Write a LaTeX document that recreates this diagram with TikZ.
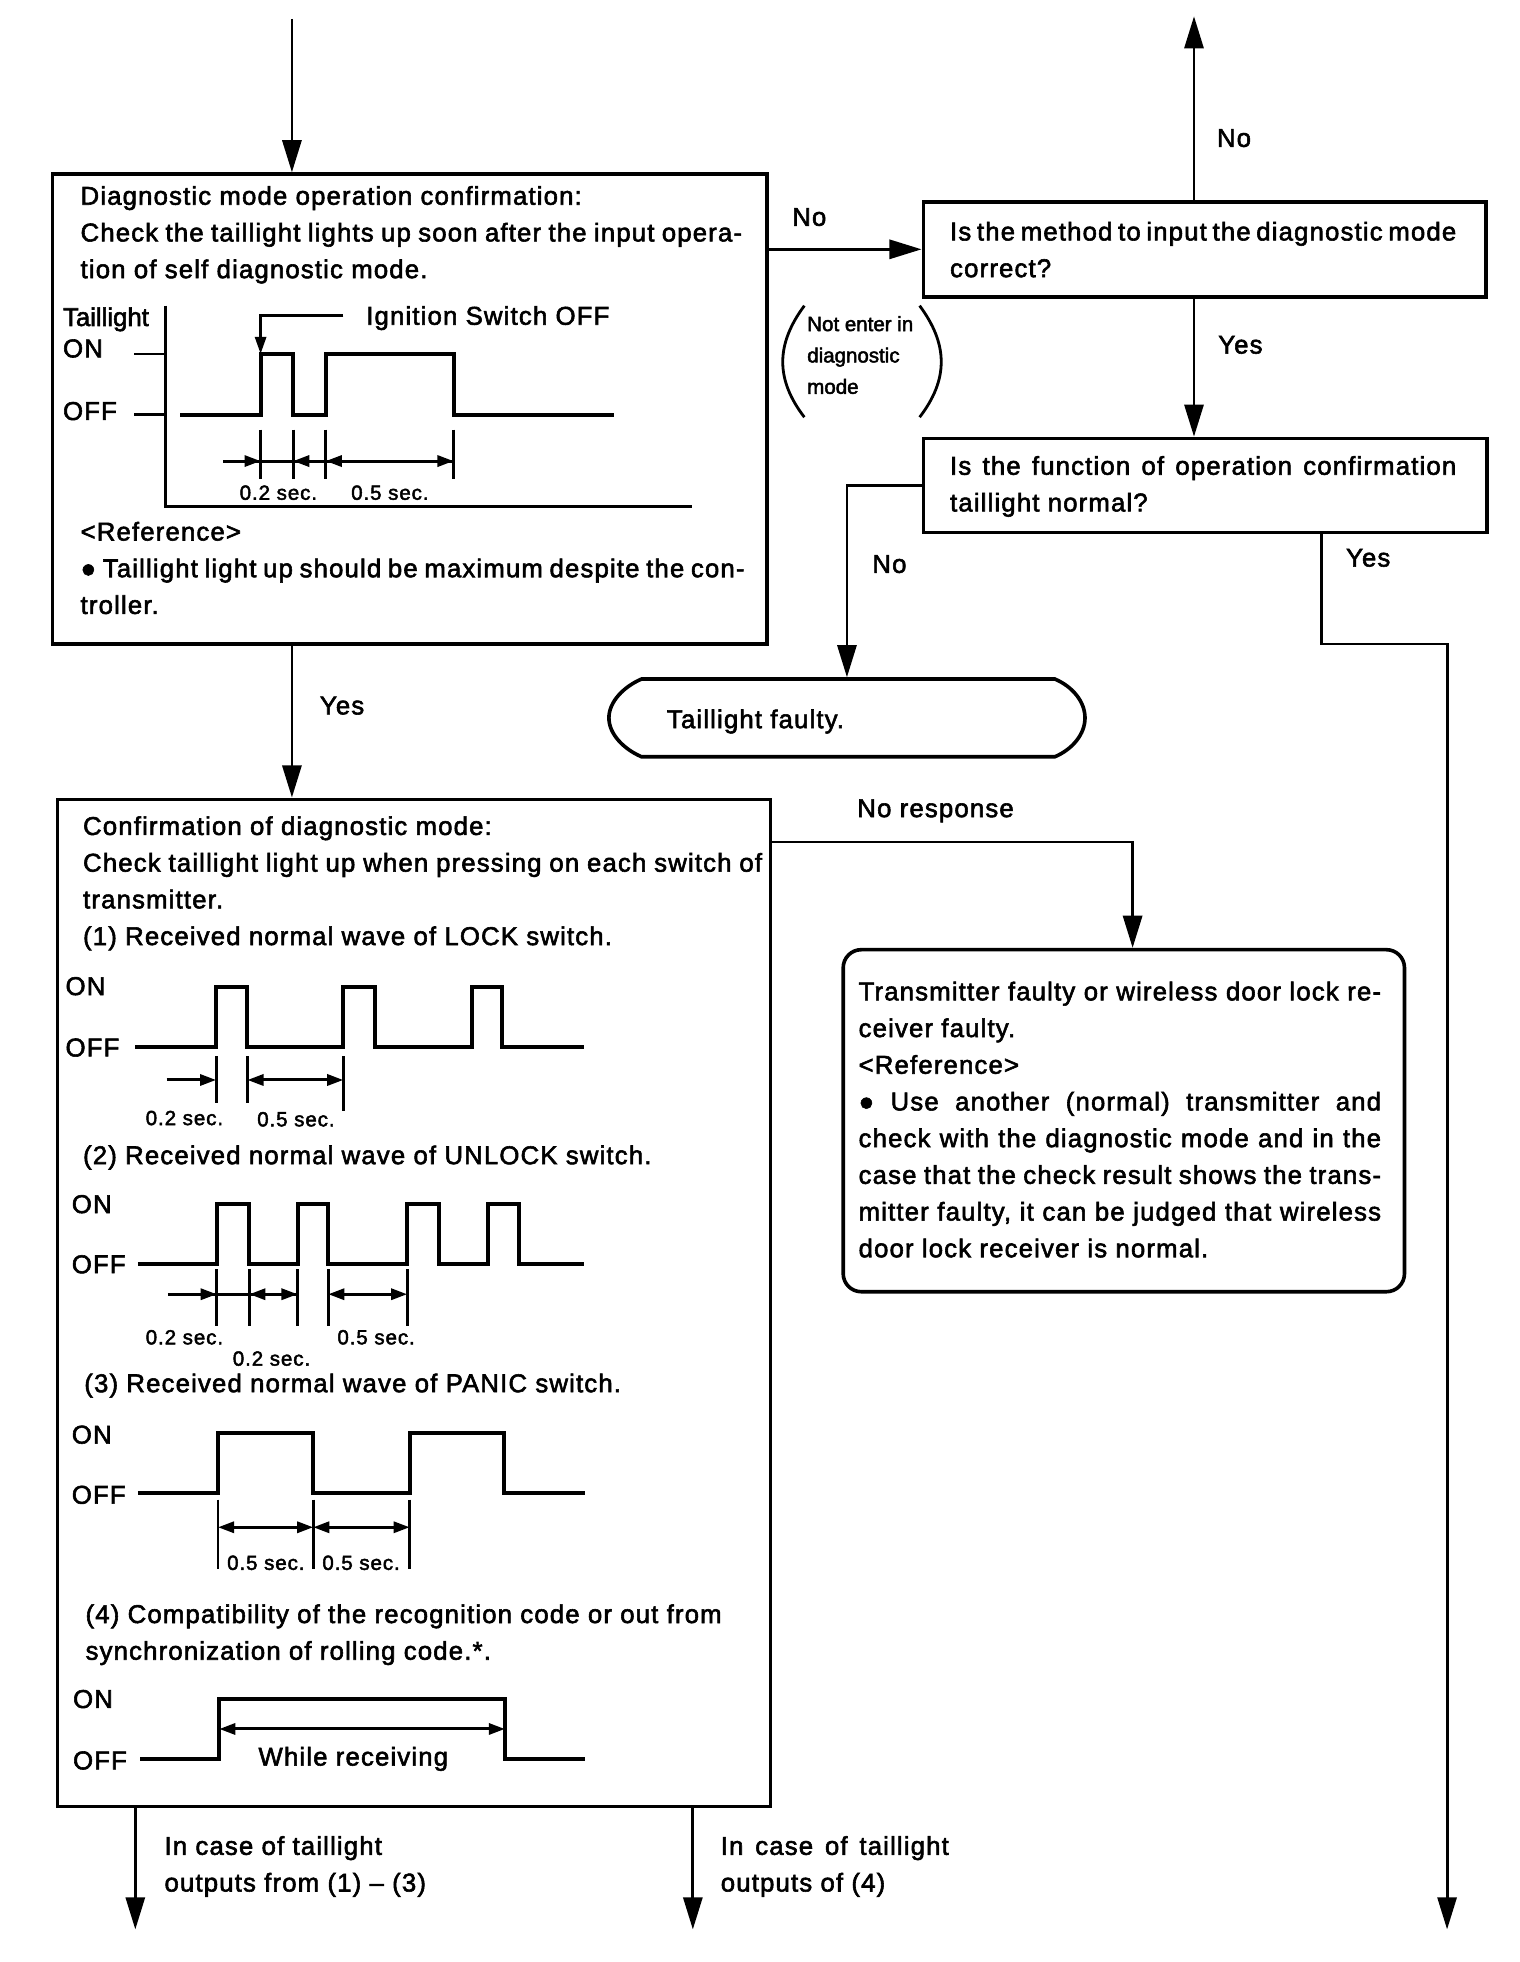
\documentclass[tikz,border=0pt]{standalone}
\usepackage{fontspec}
\setmainfont{Liberation Sans}[LetterSpace=4.5,FakeBold=2.2]
\newfontfamily\tightf{Liberation Sans}[FakeBold=2.2]
\usetikzlibrary{arrows.meta,fit}
\newlength\pu
\setlength\pu{0.623pt}
\newcommand\mainf{\fontsize{12.8}{18.25}\selectfont}
\newcommand\smallf{\fontsize{10.2}{12}\selectfont}
\newcommand\tinyf{\tightf\fontsize{10.2}{15.6}\selectfont}
\newcommand\jl[2]{\makebox[#1\pu][s]{#2}}
\tikzset{
  boxline/.style={draw, line width=1.8pt},
  fitbox/.style={boxline, inner sep=0pt, rectangle},
  conn/.style={line width=1.4pt},
  arr/.style={conn, -{Triangle[length=16pt,width=9.5pt]}},
  wave/.style={line width=2pt, line join=miter},
  tickl/.style={line width=1.4pt},
  dim/.style={line width=1.5pt},
  rtip/.style={dim, -{Triangle[length=8pt,width=5.5pt]}},
  btip/.style={dim, {Triangle[length=8pt,width=5.5pt]}-{Triangle[length=8pt,width=5.5pt]}},
  blk/.style={anchor=north west, inner sep=0pt, align=left, font=\mainf},
  lbl/.style={anchor=base west, inner sep=0pt, font=\mainf},
  slbl/.style={anchor=base west, inner sep=0pt, font=\smallf},
}
\begin{document}
\begin{tikzpicture}[x=0.623pt,y=-0.623pt]
\useasboundingbox (0,0) rectangle (1213,1566);
\fill[white] (0,0) rectangle (1213,1566);

% ---------- boxes ----------
\node[fitbox, fit={(42,139) (612,514)}] (b1) {};
\node[fitbox, fit={(737,161) (1186,237)}] (b2) {};
\node[fitbox, fit={(737,350) (1187,425)}] (b3) {};
\node[fitbox, fit={(46,638) (615,1442)}] (b4) {};
\node[fitbox, rounded corners=9pt, fit={(673,758) (1121,1031)}] (b5) {};
\node[inner sep=0pt, outer sep=0.9pt, fit={(486,542) (866,604)}] (tf) {};
\draw[boxline] (512,542) -- (842,542) .. controls (856,548) and (866,560) .. (866,573)
   .. controls (866,586) and (856,598) .. (842,604) -- (512,604)
   .. controls (498,598) and (486,586) .. (486,573)
   .. controls (486,560) and (498,548) .. (512,542) -- cycle;

% ---------- coordinates for connectors ----------
\coordinate (tin) at (233,15);
\coordinate (tup) at (953,13);
\coordinate (yb) at (1055,514);
\coordinate (rb) at (1155,1540);
\coordinate (nr) at (904,672);
\coordinate (o1) at (108,1540);
\coordinate (o2) at (553,1540);

% ---------- connectors ----------
\draw[arr] (tin) -- (tin |- b1.north);
\draw[arr] (b1.east |- b2.west) -- (b2.west);
\draw[arr] (tup |- b2.north) -- (tup);
\draw[arr] (tup |- b2.south) -- (tup |- b3.north);
\draw[arr] (b3.west) -| (tf.north);
\draw[arr] (yb |- b3.south) -- (yb) -| (rb);
\draw[arr] (tin |- b1.south) -- (tin |- b4.north);
\draw[arr] (b4.east |- nr) -- (nr) -- (nr |- b5.north);
\draw[arr] (o1 |- b4.south) -- (o1);
\draw[arr] (o2 |- b4.south) -- (o2);

% ---------- connector labels ----------
\node[lbl] (lno1) at (632,180.2) {No};
\node[lbl] (lno2) at (971,117.2) {No};
\node[lbl] (lyes1) at (972,282.2) {Yes};
\node[lbl] (lno3) at (696,457.2) {No};
\node[lbl] (lyes2) at (1074,452.2) {Yes};
\node[lbl] (lyes3) at (255,570.2) {Yes};
\node[lbl] (lnr) at (684,652.2) {No response};
\node[anchor=north west, inner sep=0pt, align=left, font=\tinyf] (nei) at (644,246.4)
  {\strut Not enter in\\diagnostic\\mode};
\draw[conn] (642,244) .. controls (619,275) and (619,303) .. (642,333);
\draw[conn] (734,244) .. controls (757,275) and (757,303) .. (734,333);
\node[blk] (out1) at (131,1459.6) {\strut In case of taillight\\outputs from (1) – (3)};
\node[blk] (out2) at (575,1459.6) {\strut\jl{182}{In case of taillight}\\outputs of (4)};

% ---------- box texts ----------
\node[blk] (t1) at (64,142.6) {\strut Diagnostic mode operation confirmation:\\
  \jl{528}{Check the taillight lights up soon after the input opera-}\\
  tion of self diagnostic mode.};
\node[blk] (t1r) at (64,410.6) {\strut <Reference>\\
  \jl{530}{● Taillight light up should be maximum despite the con-}\\
  troller.};
\node[blk] (t2) at (758,171.1) {\strut\jl{404}{Is the method to input the diagnostic mode}\\correct?};
\node[blk] (t3) at (758,358.1) {\strut\jl{404}{Is the function of operation confirmation}\\taillight normal?};
\node[lbl] (ttf) at (532,581.2) {Taillight faulty.};
\node[blk] (t4) at (66,645.6) {\strut Confirmation of diagnostic mode:\\
  \jl{542}{Check taillight light up when pressing on each switch of}\\
  transmitter.\\
  (1) Received normal wave of LOCK switch.};
\node[lbl] (t5) at (66,929.2) {(2) Received normal wave of UNLOCK switch.};
\node[lbl] (t6) at (67,1111.2) {(3) Received normal wave of PANIC switch.};
\node[blk] (t7) at (68,1274.6) {\strut (4) Compatibility of the recognition code or out from\\
  synchronization of rolling code.*.};
\node[blk] (t8) at (685,777.6) {\strut\jl{417}{Transmitter faulty or wireless door lock re-}\\
  ceiver faulty.\\
  <Reference>\\
  \jl{417}{● Use another (normal) transmitter and}\\
  \jl{417}{check with the diagnostic mode and in the}\\
  \jl{417}{case that the check result shows the trans-}\\
  \jl{417}{mitter faulty, it can be judged that wireless}\\
  door lock receiver is normal.};

% ---------- chart in box 1 ----------
\node[lbl, font=\mainf\tightf] (c0a) at (50,260.2) {Taillight};
\node[lbl] (c0b) at (50,285.2) {ON};
\node[lbl] (c0c) at (50,335.2) {OFF};
\draw[tickl] (132,244) -- (132,404.5) -- (552,404.5);
\draw[tickl] (107,282.5) -- (132,282.5);
\draw[tickl] (107,331) -- (132,331);
\draw[wave] (144,331) -- (208,331) -- (208,282.5) -- (234,282.5) -- (234,331) -- (260,331)
  -- (260,282.5) -- (362,282.5) -- (362,331) -- (490,331);
\draw[conn, -{Triangle[length=8.5pt,width=5.5pt]}] (274,252) -- (208,252) -- (208,282.5);
\node[lbl] (ign) at (292,259.2) {Ignition Switch OFF};
\foreach \x in {208,234,260,362} \draw[tickl] (\x,343) -- (\x,382);
\draw[dim] (178,368) -- (362,368);
\draw[rtip] (190,368) -- (208,368);
\draw[rtip] (250,368) -- (234,368);
\draw[rtip] (276,368) -- (260,368);
\draw[rtip] (345,368) -- (362,368);
\node[slbl] (s01) at (191,398.9) {0.2 sec.};
\node[slbl] (s02) at (280,398.9) {0.5 sec.};

% ---------- chart (1) ----------
\node[lbl] (c1a) at (52,794.2) {ON};
\node[lbl] (c1b) at (52,843.2) {OFF};
\draw[wave] (108,836) -- (172.5,836) -- (172.5,787.5) -- (197.5,787.5) -- (197.5,836)
  -- (274,836) -- (274,787.5) -- (299,787.5) -- (299,836) -- (377,836) -- (377,787.5)
  -- (401,787.5) -- (401,836) -- (466,836);
\draw[tickl] (172.5,843) -- (172.5,880);
\draw[tickl] (197.5,843) -- (197.5,880);
\draw[tickl] (274,843) -- (274,887);
\draw[rtip] (133,862) -- (172.5,862);
\draw[btip] (197.5,862) -- (274,862);
\node[slbl] (s11) at (116,898) {0.2 sec.};
\node[slbl] (s12) at (205,899) {0.5 sec.};

% ---------- chart (2) ----------
\node[lbl] (c2a) at (57,968.2) {ON};
\node[lbl] (c2b) at (57,1016.2) {OFF};
\draw[wave] (110,1009) -- (173,1009) -- (173,961) -- (199,961) -- (199,1009) -- (237.5,1009)
  -- (237.5,961) -- (262,961) -- (262,1009) -- (325,1009) -- (325,961) -- (350.5,961)
  -- (350.5,1009) -- (389.5,1009) -- (389.5,961) -- (414.5,961) -- (414.5,1009) -- (466,1009);
\foreach \x in {173,199,237.5,262,325} \draw[tickl] (\x,1013) -- (\x,1058);
\draw[dim] (134,1033) -- (237.5,1033);
\draw[rtip] (155,1033) -- (173,1033);
\draw[rtip] (215,1033) -- (199,1033);
\draw[rtip] (220,1033) -- (237.5,1033);
\draw[btip] (262,1033) -- (325,1033);
\node[slbl] (s21) at (116,1073) {0.2 sec.};
\node[slbl] (s22) at (185.5,1090) {0.2 sec.};
\node[slbl] (s23) at (269,1073) {0.5 sec.};

% ---------- chart (3) ----------
\node[lbl] (c3a) at (57,1152.2) {ON};
\node[lbl] (c3b) at (57,1200.2) {OFF};
\draw[wave] (110,1192) -- (174,1192) -- (174,1144) -- (250,1144) -- (250,1192) -- (327,1192)
  -- (327,1144) -- (402,1144) -- (402,1192) -- (467,1192);
\foreach \x in {174,250,327} \draw[tickl] (\x,1197) -- (\x,1252);
\draw[btip] (174,1219) -- (250,1219);
\draw[btip] (250,1219) -- (327,1219);
\node[slbl] (s31) at (181,1253) {0.5 sec.};
\node[slbl] (s32) at (257,1253) {0.5 sec.};

% ---------- chart (4) ----------
\node[lbl] (c4a) at (58,1363.2) {ON};
\node[lbl] (c4b) at (58,1412.2) {OFF};
\draw[wave] (112,1404) -- (175,1404) -- (175,1356) -- (403,1356) -- (403,1404) -- (467,1404);
\draw[btip] (175,1380) -- (403,1380);
\node[anchor=base, inner sep=0pt, font=\mainf] (wr) at (282,1409.2) {While receiving};
\end{tikzpicture}
\end{document}
